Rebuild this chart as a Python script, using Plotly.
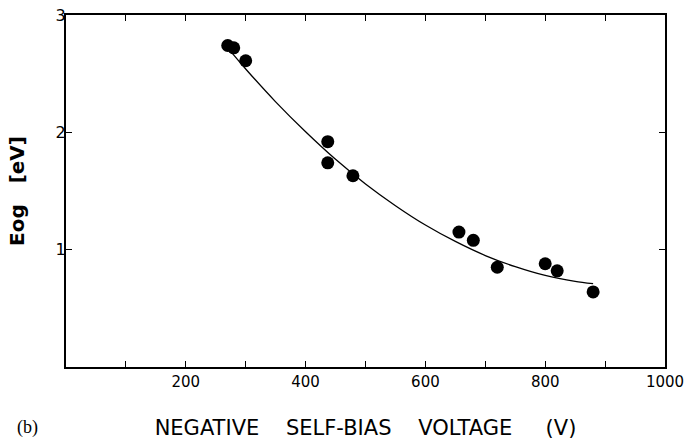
import plotly.graph_objects as go

# Measured points (negative self-bias voltage in V, optical gap Eog in eV)
voltage = [270, 280, 300, 437, 437, 479, 656, 680, 720, 800, 820, 880]
eog = [2.74, 2.72, 2.61, 1.92, 1.74, 1.63, 1.15, 1.08, 0.85, 0.88, 0.82, 0.64]

# Smooth guide curve
curve_v = [270, 300, 350, 400, 450, 500, 550, 600, 650, 700, 750, 800, 850, 880]
curve_e = [2.72, 2.54, 2.26, 2.005, 1.77, 1.56, 1.375, 1.21, 1.07, 0.95, 0.855, 0.78, 0.73, 0.71]

x_tickvals = [100, 200, 300, 400, 500, 600, 700, 800, 900, 1000]
x_ticktext = ["", "200", "", "400", "", "600", "", "800", "", "1000"]
y_tickvals = [1, 2, 3]
y_ticktext = ["1", "2", "3"]

fig = go.Figure()
fig.add_trace(go.Scatter(x=curve_v, y=curve_e, mode="lines",
                         line=dict(color="black", width=1.3, shape="spline", smoothing=0.8),
                         hoverinfo="skip", showlegend=False))
fig.add_trace(go.Scatter(x=voltage, y=eog, mode="markers",
                         marker=dict(color="black", size=13),
                         showlegend=False))

sp3 = "\u00a0" * 4
fig.update_layout(
    width=688, height=441,
    margin=dict(l=66, r=23, t=15, b=74),
    paper_bgcolor="white", plot_bgcolor="white",
    font=dict(family="DejaVu Sans", color="black"),
    xaxis=dict(range=[0, 1000], showgrid=False, zeroline=False, automargin=False,
               showline=True, linecolor="black", linewidth=2, mirror="ticks",
               ticks="inside", ticklen=6, tickwidth=1.2, tickcolor="black",
               tickvals=x_tickvals, ticktext=x_ticktext,
               tickfont=dict(family="DejaVu Sans", size=15),
               title=dict(text="NEGATIVE" + sp3 + "SELF-BIAS" + sp3 + "VOLTAGE" + sp3 + "\u00a0(V)",
                          font=dict(family="DejaVu Sans", size=21), standoff=30)),
    yaxis=dict(range=[0, 3], showgrid=False, zeroline=False, automargin=False,
               showline=True, linecolor="black", linewidth=2, mirror="ticks",
               ticks="inside", ticklen=6, tickwidth=1.2, tickcolor="black",
               tickvals=y_tickvals, ticktext=y_ticktext,
               tickfont=dict(family="DejaVu Sans", size=16),
               ticklabelstandoff=-5,
               title=dict(text="<b>Eog\u00a0\u00a0\u00a0[eV]</b>",
                          font=dict(family="DejaVu Sans", size=20), standoff=26)),
    annotations=[dict(text="(b)", xref="paper", yref="paper",
                      x=-66/599, y=-74/352, xanchor="left", yanchor="bottom",
                      xshift=15, yshift=1, showarrow=False,
                      font=dict(family="Liberation Serif", size=18, color="black"))],
)

fig.write_html("out.html")
